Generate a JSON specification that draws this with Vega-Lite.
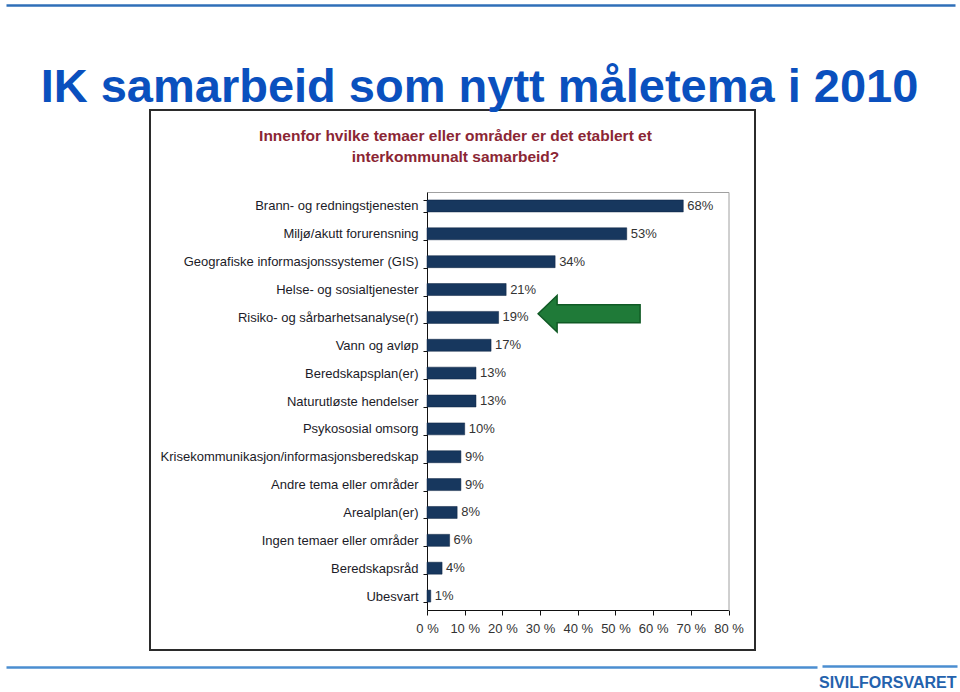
{
  "$schema": "https://vega.github.io/schema/vega-lite/v6.json",
  "width": 605,
  "height": 540,
  "autosize": "none",
  "padding": {"left": 150, "top": 110, "right": 205, "bottom": 42},
  "background": "white",
  "config": {
    "view": {"stroke": "#2b2b2b", "strokeWidth": 2},
    "font": "Liberation Sans",
    "axis": {"grid": false}
  },
  "title": {
    "text": "IK samarbeid som nytt måletema i 2010",
    "font": "Liberation Sans",
    "fontSize": 47,
    "fontWeight": "bold",
    "color": "#0a50be",
    "anchor": "middle",
    "frame": "group",
    "dx": 27,
    "dy": 144,
    "offset": 0,
    "baseline": "alphabetic"
  },
  "data": {
    "values": [
      {"topic": "Brann- og redningstjenesten", "share": 0.68},
      {"topic": "Miljø/akutt forurensning", "share": 0.53},
      {"topic": "Geografiske informasjonssystemer (GIS)", "share": 0.34},
      {"topic": "Helse- og sosialtjenester", "share": 0.21},
      {"topic": "Risiko- og sårbarhetsanalyse(r)", "share": 0.19},
      {"topic": "Vann og avløp", "share": 0.17},
      {"topic": "Beredskapsplan(er)", "share": 0.13},
      {"topic": "Naturutløste hendelser", "share": 0.13},
      {"topic": "Psykososial omsorg", "share": 0.10},
      {"topic": "Krisekommunikasjon/informasjonsberedskap", "share": 0.09},
      {"topic": "Andre tema eller områder", "share": 0.09},
      {"topic": "Arealplan(er)", "share": 0.08},
      {"topic": "Ingen temaer eller områder", "share": 0.06},
      {"topic": "Beredskapsråd", "share": 0.04},
      {"topic": "Ubesvart", "share": 0.01}
    ]
  },
  "layer": [
    {
      "mark": {"type": "bar", "color": "#17375e", "stroke": "#0d2240", "strokeWidth": 0.5},
      "encoding": {
        "y": {
          "field": "topic", "type": "nominal", "sort": null,
          "scale": {"range": [82, 500], "paddingInner": 0.57, "paddingOuter": 0.285},
          "axis": {
            "orient": "left", "offset": -277, "title": null,
            "tickBand": "extent", "tickSize": 4, "tickColor": "#111", "domainColor": "#111",
            "labelFontSize": 13, "labelColor": "#1b1b28", "labelPadding": 5, "labelLimit": 320
          }
        },
        "x": {
          "field": "share", "type": "quantitative",
          "scale": {"domain": [0, 0.8], "range": [277, 578.5], "nice": false},
          "axis": {
            "orient": "bottom", "offset": -40, "title": null,
            "values": [0, 0.1, 0.2, 0.3, 0.4, 0.5, 0.6, 0.7, 0.8],
            "labelExpr": "round(datum.value * 100) + ' %'",
            "labelOverlap": false, "labelFlush": false,
            "tickSize": 5, "tickColor": "#111", "domainColor": "#111",
            "labelPadding": 7, "labelFontSize": 13, "labelColor": "#333"
          }
        }
      }
    },
    {
      "mark": {"type": "text", "align": "left", "baseline": "middle", "dx": 4, "fontSize": 13, "color": "#333"},
      "encoding": {
        "y": {"field": "topic", "type": "nominal", "sort": null, "axis": null},
        "x": {
          "field": "share", "type": "quantitative",
          "scale": {"domain": [0, 0.8], "range": [277, 578.5], "nice": false},
          "axis": {
            "orient": "top", "offset": -82, "domainColor": "#a0a0a0", "domainWidth": 1,
            "ticks": false, "labels": false,
            "title": ["Innenfor hvilke temaer eller områder er det etablert et", "interkommunalt samarbeid?"],
            "titleX": 305, "titleY": -64, "titleAlign": "center", "titleBaseline": "top",
            "titleFontSize": 15.5, "titleFontWeight": "bold", "titleColor": "#8b2634", "titleLineHeight": 21
          }
        },
        "text": {"field": "share", "type": "quantitative", "format": ".0%"}
      }
    },
    {
      "transform": [{"filter": "datum.topic === 'Risiko- og sårbarhetsanalyse(r)'"}],
      "mark": {
        "type": "point",
        "shape": "M 1.975 -0.185 L 2.925 -1.1 L 2.925 -0.635 L 7.075 -0.635 L 7.075 0.265 L 2.925 0.265 L 2.925 0.735 Z",
        "size": 1600, "filled": true, "fill": "#1f7a38", "stroke": "#105a25", "strokeWidth": 1.5, "opacity": 1
      },
      "encoding": {
        "y": {
          "field": "topic", "type": "nominal", "sort": null,
          "axis": {"orient": "right", "offset": -26.5, "domainColor": "#a0a0a0", "ticks": false, "labels": false, "title": null}
        },
        "x": {
          "field": "share", "type": "quantitative",
          "scale": {"domain": [0, 0.8], "range": [277, 578.5], "nice": false},
          "axis": null
        }
      }
    },
    {
      "mark": {"type": "point", "opacity": 0},
      "encoding": {
        "x": {
          "field": "share", "type": "quantitative",
          "scale": {"domain": [0, 0.8], "range": [-144, 805], "nice": false},
          "axis": {"orient": "top", "offset": 105, "domainColor": "#2f6fb8", "domainWidth": 2.5, "ticks": false, "labels": false, "title": null}
        }
      }
    },
    {
      "mark": {"type": "point", "opacity": 0},
      "encoding": {
        "x": {
          "field": "share", "type": "quantitative",
          "scale": {"domain": [0, 0.8], "range": [-144, 667], "nice": false},
          "axis": {"orient": "bottom", "offset": 17, "domainColor": "#4b8ed0", "domainWidth": 2.5, "ticks": false, "labels": false, "title": null}
        }
      }
    },
    {
      "mark": {"type": "point", "opacity": 0},
      "encoding": {
        "x": {
          "field": "share", "type": "quantitative",
          "scale": {"domain": [0, 0.8], "range": [672, 807], "nice": false},
          "axis": {
            "orient": "bottom", "offset": 16, "domainColor": "#4b8ed0", "domainWidth": 2.5, "ticks": false, "labels": false,
            "title": "SIVILFORSVARET", "titleX": 806, "titleY": 21, "titleAlign": "right", "titleBaseline": "alphabetic",
            "titleFont": "Liberation Sans",
            "titleFontSize": 16, "titleFontWeight": "bold", "titleColor": "#2462ad"
          }
        }
      }
    }
  ],
  "resolve": {
    "scale": {"x": "independent"},
    "axis": {"x": "independent", "y": "independent"}
  }
}
